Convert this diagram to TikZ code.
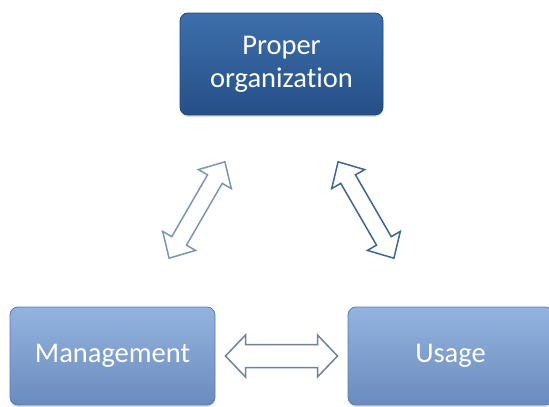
\documentclass[tikz,border=0pt]{standalone}
\usepackage{fontspec}
\setmainfont{Carlito}[Ligatures=NoCommon]
\usetikzlibrary{calc,shadows}

\definecolor{darktop}{HTML}{3D6FAB}
\definecolor{darkbot}{HTML}{264F87}
\definecolor{darkedge}{HTML}{1F4A7C}
\definecolor{lighttop}{HTML}{94B3DF}
\definecolor{lightbot}{HTML}{6A8BBE}
\definecolor{lightedge}{HTML}{5A7DAE}
\definecolor{leftarrow}{HTML}{7F93B5}
\definecolor{rightarrow}{HTML}{3E6596}
\definecolor{midarrow}{HTML}{70819E}

\begin{document}
\begin{tikzpicture}[x=1pt, y=-1pt,
    box/.style={rounded corners=8pt, text=white, align=center,
        font=\fontsize{28.5}{33}\selectfont, line width=0.8pt,
        drop shadow={shadow xshift=0pt, shadow yshift=-2pt, opacity=0.25}},
    darkbox/.style={box, minimum width=203pt, minimum height=102pt,
        top color=darktop, bottom color=darkbot, draw=darkedge},
    lightbox/.style={box, minimum width=205pt, minimum height=98pt,
        top color=lighttop, bottom color=lightbot, draw=lightedge},
    % hollow two-headed block arrow: shaft half width / head half width
    dblarrow/.style args={#1/#2}{fill=white, line width=1.5pt, line join=miter,
        to path={
          ($(\tikztostart)!113pt!(\tikztotarget)$) coordinate (as)
          ($(\tikztotarget)!113pt!(\tikztostart)$) coordinate (ae)
          ($(as)!20pt!(ae)$) coordinate (hs)
          ($(ae)!20pt!(as)$) coordinate (he)
          (as) -- ($(hs)!#2pt!90:(ae)$) -- ($(hs)!#1pt!90:(ae)$)
          -- ($(he)!#1pt!-90:(as)$) -- ($(he)!#2pt!-90:(as)$) -- (ae)
          -- ($(he)!#2pt!90:(as)$) -- ($(he)!#1pt!90:(as)$)
          -- ($(hs)!#1pt!-90:(ae)$) -- ($(hs)!#2pt!-90:(ae)$) -- cycle}}]

\useasboundingbox (0,0) rectangle (549,407);

\node[darkbox] (organization) at (281.5,64) {Proper\\organization};
\node[lightbox] (management) at (112.5,356) {Management};
\node[lightbox] (usage) at (450.5,356) {Usage};

\draw[dblarrow=8.5/19, draw=leftarrow] (organization) to (management);
\draw[dblarrow=8.5/19, draw=rightarrow] (organization) to (usage);
\draw[dblarrow=11.5/21, draw=midarrow] (management) to (usage);
\end{tikzpicture}
\end{document}
